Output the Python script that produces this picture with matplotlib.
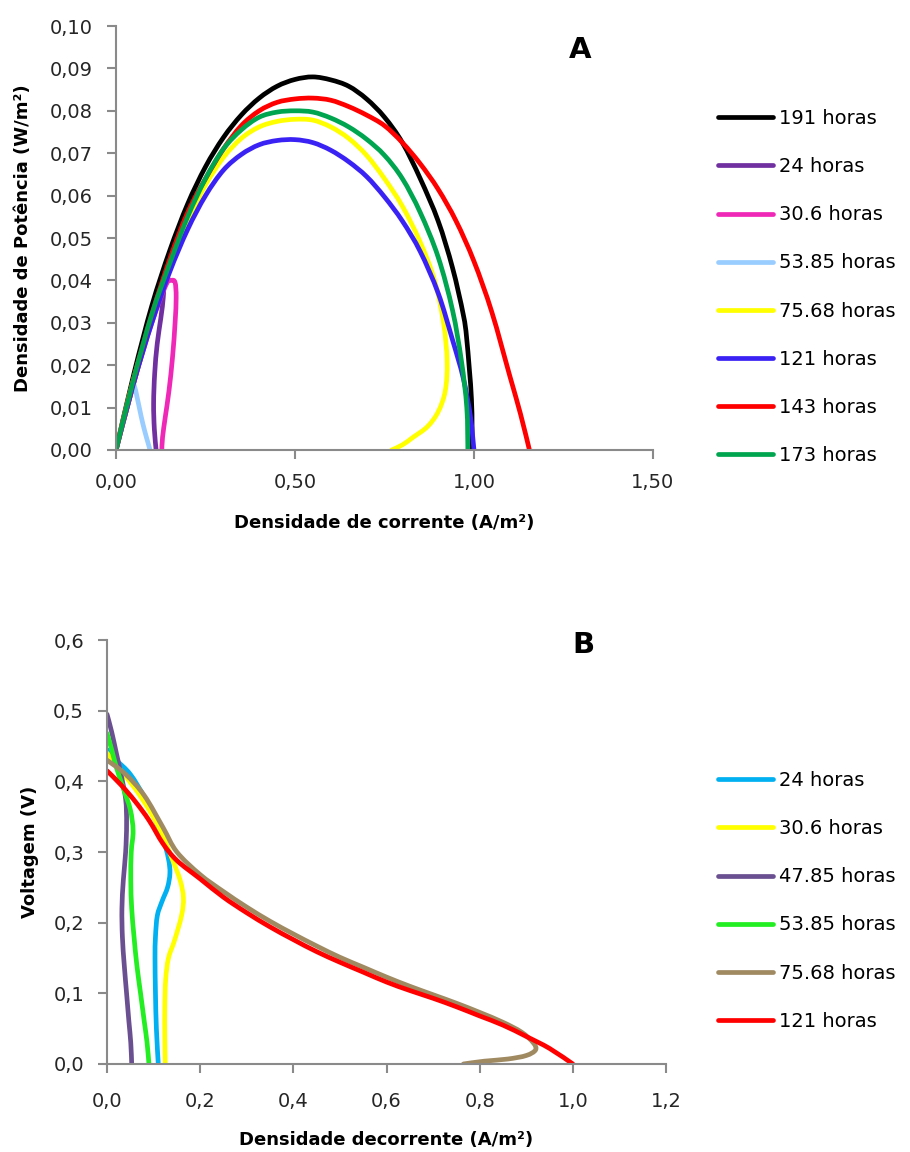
import matplotlib
matplotlib.use('Agg')
import matplotlib.pyplot as plt
from matplotlib.path import Path
from matplotlib.patches import PathPatch
from matplotlib.lines import Line2D

# ---------- painel A: densidade de potencia ----------
rotulos_a = ['191 horas', '24 horas', '30.6 horas', '53.85 horas',
             '75.68 horas', '121 horas', '143 horas', '173 horas']
cores_a = ['#000000', '#7030A0', '#F028B8', '#99CCFF',
           '#FFFF00', '#3A22F5', '#FF0000', '#00A550']

i_191 = [0, 0.05, 0.10, 0.15, 0.20, 0.25, 0.30, 0.35, 0.40, 0.45, 0.50, 0.55,
         0.60, 0.65, 0.70, 0.75, 0.80, 0.85, 0.90, 0.94, 0.97, 0.98, 0.993, 0.995]
p_191 = [0, 0.018, 0.034, 0.047, 0.058, 0.0668, 0.0737, 0.079, 0.083, 0.0858, 0.0874, 0.088,
         0.0873, 0.0858, 0.0828, 0.0785, 0.0725, 0.064, 0.054, 0.043, 0.032, 0.026, 0.012, 0.0]

i_24 = [0, 0.05, 0.10, 0.13, 0.132, 0.125, 0.115, 0.108, 0.105, 0.107, 0.112]
p_24 = [0, 0.016, 0.031, 0.038, 0.036, 0.031, 0.025, 0.018, 0.011, 0.005, 0.0]

i_30 = [0, 0.05, 0.10, 0.14, 0.155, 0.165, 0.168, 0.165, 0.158, 0.148, 0.138, 0.130, 0.128]
p_30 = [0, 0.016, 0.030, 0.039, 0.040, 0.0395, 0.036, 0.030, 0.022, 0.014, 0.008, 0.003, 0.0]

i_53 = [0, 0.045, 0.05, 0.06, 0.07, 0.08, 0.09, 0.095]
p_53 = [0, 0.015, 0.0155, 0.012, 0.008, 0.0045, 0.0015, 0.0]

i_75 = [0, 0.05, 0.10, 0.15, 0.20, 0.25, 0.30, 0.35, 0.40, 0.45, 0.50, 0.55, 0.60, 0.65,
        0.70, 0.75, 0.80, 0.85, 0.89, 0.915, 0.925, 0.92, 0.90, 0.87, 0.83, 0.80, 0.77]
p_75 = [0, 0.017, 0.031, 0.043, 0.054, 0.0625, 0.069, 0.0735, 0.0762, 0.0775, 0.078, 0.0778,
        0.0762, 0.0735, 0.0695, 0.064, 0.0575, 0.049, 0.040, 0.030, 0.021, 0.014, 0.009,
        0.0055, 0.003, 0.0012, 0.0]

i_121 = [0, 0.05, 0.10, 0.15, 0.20, 0.25, 0.30, 0.35, 0.40, 0.45, 0.50, 0.55,
         0.60, 0.65, 0.70, 0.75, 0.80, 0.85, 0.90, 0.94, 0.97, 0.99, 1.0]
p_121 = [0, 0.016, 0.030, 0.042, 0.052, 0.060, 0.066, 0.0697, 0.072, 0.073, 0.0732, 0.0725,
         0.0707, 0.068, 0.0645, 0.0597, 0.054, 0.0468, 0.037, 0.026, 0.017, 0.008, 0.0]

i_143 = [0, 0.05, 0.10, 0.15, 0.20, 0.25, 0.30, 0.35, 0.40, 0.45, 0.50, 0.55, 0.60, 0.65,
         0.70, 0.75, 0.80, 0.85, 0.90, 0.95, 1.00, 1.05, 1.10, 1.13, 1.155]
p_143 = [0, 0.017, 0.032, 0.045, 0.056, 0.064, 0.071, 0.0765, 0.080, 0.082, 0.0828, 0.083,
         0.0825, 0.081, 0.079, 0.0765, 0.0725, 0.0675, 0.0615, 0.054, 0.0445, 0.0325, 0.0175,
         0.0085, 0.0]

i_173 = [0, 0.05, 0.10, 0.15, 0.20, 0.25, 0.30, 0.35, 0.40, 0.45, 0.50, 0.55,
         0.60, 0.65, 0.70, 0.75, 0.80, 0.85, 0.90, 0.94, 0.965, 0.98, 0.983]
p_173 = [0, 0.017, 0.032, 0.044, 0.055, 0.064, 0.071, 0.0755, 0.0785, 0.0797, 0.080, 0.0797,
         0.0783, 0.0762, 0.0733, 0.0695, 0.064, 0.056, 0.0455, 0.033, 0.021, 0.010, 0.0]

series_a = [(i_191, p_191), (i_24, p_24), (i_30, p_30), (i_53, p_53),
            (i_75, p_75), (i_121, p_121), (i_143, p_143), (i_173, p_173)]

# ---------- painel B: voltagem ----------
rotulos_b = ['24 horas', '30.6 horas', '47.85 horas', '53.85 horas', '75.68 horas', '121 horas']
cores_b = ['#00B0F0', '#FFFF00', '#6A5090', '#22EE22', '#A08A62', '#FF0000']

ib_24 = [0, 0.02, 0.05, 0.08, 0.10, 0.12, 0.132, 0.135, 0.13, 0.118, 0.108, 0.104,
         0.103, 0.104, 0.106, 0.11]
vb_24 = [0.445, 0.43, 0.41, 0.378, 0.35, 0.32, 0.29, 0.27, 0.25, 0.23, 0.21, 0.18,
         0.15, 0.10, 0.05, 0.0]

ib_30 = [0, 0.03, 0.06, 0.09, 0.115, 0.14, 0.157, 0.164, 0.16, 0.145, 0.132, 0.126,
         0.124, 0.124, 0.125]
vb_30 = [0.44, 0.415, 0.39, 0.36, 0.33, 0.29, 0.26, 0.235, 0.21, 0.175, 0.15, 0.12,
         0.08, 0.04, 0.0]

ib_47 = [0, 0.01, 0.02, 0.03, 0.04, 0.042, 0.04, 0.035, 0.032, 0.033, 0.037, 0.042,
         0.047, 0.051, 0.053]
vb_47 = [0.495, 0.47, 0.44, 0.41, 0.375, 0.34, 0.30, 0.26, 0.22, 0.18, 0.14, 0.10,
         0.06, 0.03, 0.0]

ib_53 = [0, 0.01, 0.02, 0.035, 0.05, 0.056, 0.052, 0.051, 0.053, 0.058, 0.064, 0.072,
         0.08, 0.086, 0.09]
vb_53 = [0.468, 0.445, 0.42, 0.39, 0.36, 0.33, 0.30, 0.26, 0.22, 0.18, 0.14, 0.10,
         0.06, 0.03, 0.0]

ib_75 = [0, 0.04, 0.08, 0.12, 0.15, 0.2, 0.25, 0.3, 0.35, 0.4, 0.45, 0.5, 0.55, 0.6,
         0.65, 0.7, 0.75, 0.8, 0.85, 0.89, 0.915, 0.92, 0.90, 0.86, 0.81, 0.765]
vb_75 = [0.43, 0.41, 0.38, 0.335, 0.300, 0.268, 0.244, 0.222, 0.202, 0.184, 0.167, 0.151,
         0.137, 0.123, 0.110, 0.098, 0.086, 0.073, 0.059, 0.045, 0.030, 0.020, 0.012,
         0.007, 0.004, 0.0]

ib_121 = [0, 0.03, 0.06, 0.09, 0.12, 0.15, 0.2, 0.25, 0.3, 0.35, 0.4, 0.45, 0.5, 0.55,
          0.6, 0.65, 0.7, 0.75, 0.8, 0.85, 0.9, 0.95, 1.0]
vb_121 = [0.415, 0.395, 0.372, 0.345, 0.312, 0.288, 0.262, 0.236, 0.214, 0.194, 0.176,
          0.159, 0.144, 0.130, 0.116, 0.104, 0.093, 0.081, 0.068, 0.055, 0.039, 0.022, 0.0]

series_b = [(ib_24, vb_24), (ib_30, vb_30), (ib_47, vb_47), (ib_53, vb_53),
            (ib_75, vb_75), (ib_121, vb_121)]

xt_a = [0, 0.5, 1.0, 1.5]
yt_a = [0, 0.01, 0.02, 0.03, 0.04, 0.05, 0.06, 0.07, 0.08, 0.09, 0.10]
xt_b = [0, 0.2, 0.4, 0.6, 0.8, 1.0, 1.2]
yt_b = [0, 0.1, 0.2, 0.3, 0.4, 0.5, 0.6]

plt.rcParams['font.family'] = ['DejaVu Sans']
cinza = '#8A8A8A'
LW = 3.4


def linha_suave(ax, x, y, cor):
    # linha suavizada como no Excel: bezier cubica passando pelos pontos
    pts = list(zip(x, y))
    n = len(pts)
    verts = [pts[0]]
    codes = [Path.MOVETO]
    for k in range(n - 1):
        p0 = pts[max(k - 1, 0)]
        p1 = pts[k]
        p2 = pts[k + 1]
        p3 = pts[min(k + 2, n - 1)]
        c1 = (p1[0] + (p2[0] - p0[0]) / 6, p1[1] + (p2[1] - p0[1]) / 6)
        c2 = (p2[0] - (p3[0] - p1[0]) / 6, p2[1] - (p3[1] - p1[1]) / 6)
        verts += [c1, c2, p2]
        codes += [Path.CURVE4] * 3
    ax.add_patch(PathPatch(Path(verts, codes), fill=False, edgecolor=cor, lw=LW,
                           capstyle='round', joinstyle='round'))


def estilo(ax, xt, yt, casas):
    for s in ['top', 'right']:
        ax.spines[s].set_visible(False)
    for s in ['left', 'bottom']:
        ax.spines[s].set_color(cinza)
        ax.spines[s].set_linewidth(1.5)
    ax.set_xticks(xt)
    ax.set_yticks(yt)
    ax.set_xticklabels([f'{v:.{casas[0]}f}'.replace('.', ',') for v in xt])
    ax.set_yticklabels([f'{v:.{casas[1]}f}'.replace('.', ',') for v in yt])
    ax.tick_params(direction='out', length=6.5, width=1.5, color=cinza,
                   labelsize=14, labelcolor='#262626', pad=10)


def legenda(ax, cores, rotulos, topo):
    alcas = [Line2D([], [], color=c, lw=LW, solid_capstyle='round') for c in cores]
    ax.legend(alcas, rotulos, loc='upper left', bbox_to_anchor=(718 / 910, 1 - topo / 1152),
              bbox_transform=fig.transFigure, frameon=False, fontsize=14,
              handlelength=2.85, handletextpad=0.3, labelspacing=1.5,
              borderpad=0, borderaxespad=0)


fig = plt.figure(figsize=(9.1, 11.52), dpi=100)

ax1 = fig.add_axes([0.1275, 0.6094, 0.590, 0.368])
for (x, y), c in zip(series_a, cores_a):
    linha_suave(ax1, x, y, c)
ax1.set_xlim(0, 1.5)
ax1.set_ylim(0, 0.10)
estilo(ax1, xt_a, yt_a, (2, 2))
ax1.set_xlabel('Densidade de corrente (A/m²)', fontsize=13, fontweight='bold', labelpad=16)
ax1.set_ylabel('Densidade de Potência (W/m²)', fontsize=13, fontweight='bold', labelpad=13)
ax1.text(0.864, 0.943, 'A', transform=ax1.transAxes, fontsize=21, fontweight='bold',
         ha='center', va='center')
legenda(ax1, cores_a, rotulos_a, 109)

ax2 = fig.add_axes([0.1176, 0.0764, 0.6143, 0.368])
for (x, y), c in zip(series_b, cores_b):
    linha_suave(ax2, x, y, c)
ax2.set_xlim(0, 1.2)
ax2.set_ylim(0, 0.6)
estilo(ax2, xt_b, yt_b, (1, 1))
ax2.tick_params(axis='x', pad=14)
ax2.set_xlabel('Densidade decorrente (A/m²)', fontsize=13, fontweight='bold', labelpad=14)
ax2.set_ylabel('Voltagem (V)', fontsize=13, fontweight='bold', labelpad=10)
ax2.text(0.852, 0.988, 'B', transform=ax2.transAxes, fontsize=21, fontweight='bold',
         ha='center', va='center')
legenda(ax2, cores_b, rotulos_b, 771)

fig.savefig('out.png', dpi=100)
